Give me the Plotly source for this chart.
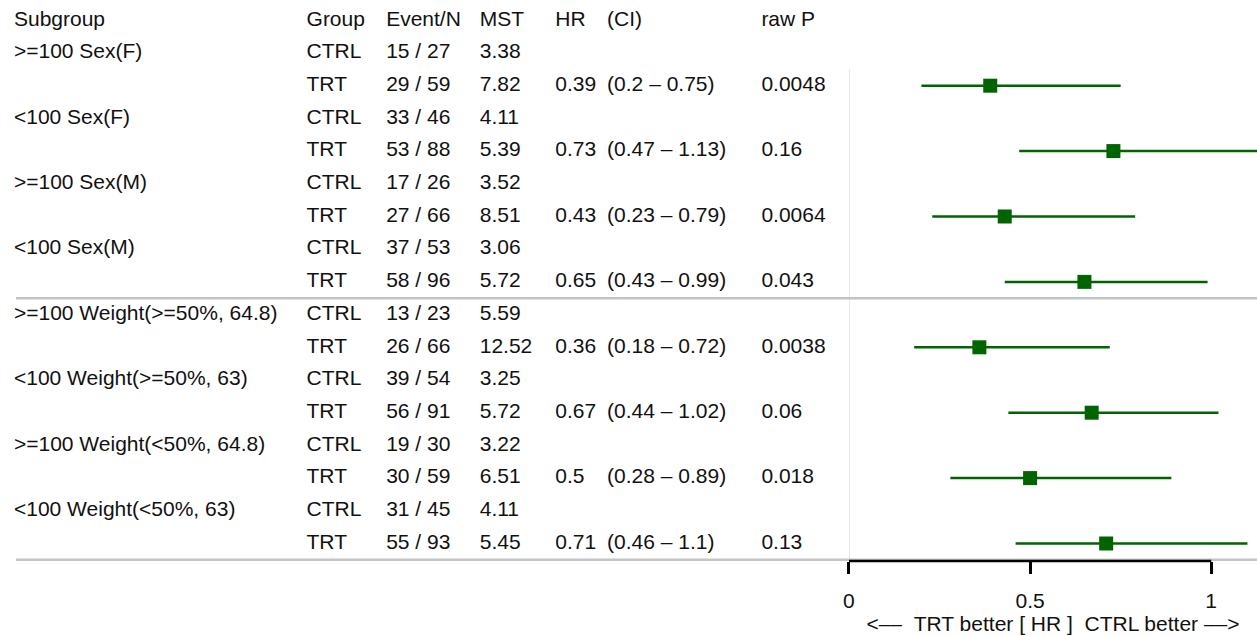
import plotly.graph_objects as go

# Subgroup table values
subgroups = [">=100 Sex(F)", "<100 Sex(F)", ">=100 Sex(M)", "<100 Sex(M)",
             ">=100 Weight(>=50%, 64.8)", "<100 Weight(>=50%, 63)",
             ">=100 Weight(<50%, 64.8)", "<100 Weight(<50%, 63)"]
ctrl_events = ["15 / 27", "33 / 46", "17 / 26", "37 / 53", "13 / 23", "39 / 54", "19 / 30", "31 / 45"]
ctrl_mst = ["3.38", "4.11", "3.52", "3.06", "5.59", "3.25", "3.22", "4.11"]
trt_events = ["29 / 59", "53 / 88", "27 / 66", "58 / 96", "26 / 66", "56 / 91", "30 / 59", "55 / 93"]
trt_mst = ["7.82", "5.39", "8.51", "5.72", "12.52", "5.72", "6.51", "5.45"]
hr = [0.39, 0.73, 0.43, 0.65, 0.36, 0.67, 0.5, 0.71]
ci_low = [0.2, 0.47, 0.23, 0.43, 0.18, 0.44, 0.28, 0.46]
ci_high = [0.75, 1.13, 0.79, 0.99, 0.72, 1.02, 0.89, 1.1]
raw_p = ["0.0048", "0.16", "0.0064", "0.043", "0.0038", "0.06", "0.018", "0.13"]

headers = ["Subgroup", "Group", "Event/N", "MST", "HR", "(CI)", "raw P"]
col_x = [8, 302, 382, 476, 552, 604, 759]

FONT = "Liberation Sans, Arial, sans-serif"
FS = 21
TXT = "#111111"
GREEN = "#006400"

n = len(subgroups)
ctrl_rows = [2 * i + 1 for i in range(n)]
trt_rows = [2 * i + 2 for i in range(n)]

fig = go.Figure()


def text_col(x, ys, texts):
    """One table column drawn as a text trace on the full-width axis."""
    fig.add_trace(go.Scatter(
        x=[x] * len(ys), y=ys, text=texts, mode="text",
        textposition="middle right", xaxis="x2", yaxis="y",
        textfont=dict(family=FONT, size=FS, color=TXT),
        hoverinfo="skip", showlegend=False, cliponaxis=False))


text_col(col_x[0], [0] + ctrl_rows, [headers[0]] + subgroups)
text_col(col_x[1], [0] + ctrl_rows + trt_rows, [headers[1]] + ["CTRL"] * n + ["TRT"] * n)
text_col(col_x[2], [0] + ctrl_rows + trt_rows, [headers[2]] + ctrl_events + trt_events)
text_col(col_x[3], [0] + ctrl_rows + trt_rows, [headers[3]] + ctrl_mst + trt_mst)
text_col(col_x[4], [0] + trt_rows, [headers[4]] + [str(v) for v in hr])
text_col(col_x[5], [0] + trt_rows,
         [headers[5]] + [f"({lo} \u2013 {hi})" for lo, hi in zip(ci_low, ci_high)])
text_col(col_x[6], [0] + trt_rows, [headers[6]] + raw_p)

# Hazard ratios with confidence intervals
fig.add_trace(go.Scatter(
    x=hr, y=trt_rows, mode="markers", xaxis="x", yaxis="y",
    marker=dict(symbol="square", size=14, color=GREEN),
    error_x=dict(type="data", symmetric=False,
                 array=[hi - h for h, hi in zip(hr, ci_high)],
                 arrayminus=[h - lo for h, lo in zip(hr, ci_low)],
                 thickness=2.5, width=0, color=GREEN),
    hoverinfo="skip", showlegend=False))

shapes = [
    # reference line at HR = 0
    dict(type="line", xref="x", yref="y", x0=0, x1=0, y0=1.5, y1=16.5,
         line=dict(color="#d3d3d3", width=1.2), layer="below"),
    # group separators
    dict(type="line", xref="x2", yref="y", x0=10, x1=1257, y0=8.5, y1=8.5,
         line=dict(color="#c4c4c4", width=2.5), layer="below"),
    dict(type="line", xref="x2", yref="y", x0=10, x1=1257, y0=16.5, y1=16.5,
         line=dict(color="#c4c4c4", width=2.5), layer="below"),
    # HR axis line
    dict(type="line", xref="x", yref="y domain", x0=0, x1=1, y0=0, y1=0,
         line=dict(color="black", width=2.5)),
]

fig.update_layout(
    width=1257, height=636,
    margin=dict(l=0, r=0, t=0, b=0),
    paper_bgcolor="white", plot_bgcolor="rgba(0,0,0,0)",
    font=dict(family=FONT, size=FS, color=TXT),
    shapes=shapes,
    xaxis=dict(domain=[847 / 1257, 1], range=[0, 410 / 364], anchor="y",
               tickvals=[0, 0.5, 1], ticktext=["0", "0.5", "1"],
               ticks="outside", ticklen=12, tickwidth=2.5, tickcolor="black",
               ticklabelstandoff=9,
               showline=False, showgrid=False, zeroline=False,
               tickfont=dict(family=FONT, size=FS, color=TXT),
               title=dict(text="<\u2013\u2013\u00a0\u00a0TRT better [ HR ]\u00a0\u00a0CTRL better \u2013\u2013>",
                          font=dict(family=FONT, size=FS, color=TXT), standoff=2)),
    xaxis2=dict(domain=[0, 1], range=[0, 1257], anchor="y", visible=False),
    yaxis=dict(domain=[75 / 636, 1], range=[16.535, -0.62], visible=False),
)

fig.write_html("out.html")
